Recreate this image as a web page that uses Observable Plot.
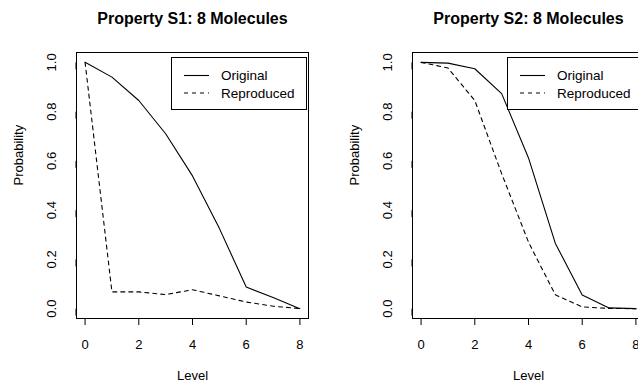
<!DOCTYPE html>
<html>
<head>
<meta charset="utf-8">
<script src="https://cdn.jsdelivr.net/npm/d3@7"></script>
<script src="https://cdn.jsdelivr.net/npm/@observablehq/plot@0.6"></script>
<style>
  html, body { margin: 0; padding: 0; background: #fff; }
  #chart { position: relative; width: 638px; height: 383px; overflow: hidden; background: #fff; }
  .panel { position: absolute; top: 0; width: 336px; height: 383px; }
  .legend { position: absolute; left: 171px; top: 57px; width: 136px; height: 53px; box-sizing: border-box; border: 1px solid #000; background: #fff; }
  .legend svg { position: absolute; left: 0; top: 0; }
</style>
</head>
<body>
<div id="chart"></div>
<script>
const levels = [0, 1, 2, 3, 4, 5, 6, 7, 8];
const s1Original   = [1.0, 0.94, 0.845, 0.71, 0.539, 0.326, 0.088, 0.045, 0.0];
const s1Reproduced = [1.0, 0.068, 0.068, 0.057, 0.077, 0.052, 0.027, 0.01, 0.0];
const s2Original   = [1.0, 0.997, 0.974, 0.873, 0.612, 0.265, 0.055, 0.003, 0.0];
const s2Reproduced = [1.0, 0.977, 0.845, 0.548, 0.27, 0.056, 0.007, 0.001, 0.0];
const titles = ["Property S1: 8 Molecules", "Property S2: 8 Molecules"];
const seriesNames = ["Original", "Reproduced"];
const xTicks = [0, 2, 4, 6, 8];
const yTicks = [0, 0.2, 0.4, 0.6, 0.8, 1.0];
const xLabel = "Level";
const yLabel = "Probability";

const FONT = "'Liberation Sans', Arial, Helvetica, sans-serif";

function table(orig, repr) {
  const rows = [];
  levels.forEach((l, i) => rows.push({level: l, value: orig[i], series: seriesNames[0]}));
  levels.forEach((l, i) => rows.push({level: l, value: repr[i], series: seriesNames[1]}));
  return rows;
}

function panel(title, orig, repr) {
  const data = table(orig, repr);
  return Plot.plot({
    width: 336,
    height: 383,
    marginLeft: 76,
    marginRight: 28,
    marginTop: 52,
    marginBottom: 65,
    x: {domain: [-0.32, 8.32]},
    y: {domain: [-0.04, 1.04]},
    style: {fontFamily: FONT, fontSize: "13px", color: "#000", background: "#fff", overflow: "visible"},
    marks: [
      Plot.frame({stroke: "#000", strokeWidth: 1}),
      Plot.axisX({ticks: xTicks, tickSize: 7, tickPadding: 14, label: null, stroke: "#000", fill: "#000", fontSize: 13}),
      Plot.axisY({ticks: yTicks, tickSize: 7, tickPadding: 18, label: null, tickFormat: d3.format(".1f"),
        rotate: -90, textAnchor: "middle", lineAnchor: "middle", stroke: "#000", fill: "#000", fontSize: 13}),
      Plot.line(data.filter(d => d.series === seriesNames[0]), {x: "level", y: "value", stroke: "#000", strokeWidth: 1.1}),
      Plot.line(data.filter(d => d.series === seriesNames[1]), {x: "level", y: "value", stroke: "#000", strokeWidth: 1.1, strokeDasharray: "4,4"}),
      Plot.text([title], {frameAnchor: "top", dy: -34, fontWeight: "bold", fontSize: 16, lineAnchor: "middle", fill: "#000"}),
      Plot.text([xLabel], {frameAnchor: "bottom", dy: 57, fontSize: 13, lineAnchor: "middle", fill: "#000"}),
      Plot.text([yLabel], {frameAnchor: "left", dx: -58, rotate: -90, fontSize: 13, lineAnchor: "middle", fill: "#000"})
    ]
  });
}

function legend() {
  const div = document.createElement("div");
  div.className = "legend";
  const svg = d3.create("svg").attr("width", 136).attr("height", 53);
  seriesNames.forEach((name, i) => {
    const y = 17.5 + i * 17.5;
    svg.append("line").attr("x1", 12).attr("x2", 37).attr("y1", y).attr("y2", y)
      .attr("stroke", "#000").attr("stroke-width", 1.1)
      .attr("stroke-dasharray", i === 1 ? "4,4" : null);
    svg.append("text").attr("x", 49).attr("y", y).attr("dy", "0.35em")
      .attr("font-family", FONT).attr("font-size", 13.5).attr("fill", "#000").text(name);
  });
  div.appendChild(svg.node());
  return div;
}

const chart = document.getElementById("chart");
[[titles[0], s1Original, s1Reproduced], [titles[1], s2Original, s2Reproduced]].forEach(([t, o, r], i) => {
  const p = document.createElement("div");
  p.className = "panel";
  p.style.left = (i * 336) + "px";
  p.appendChild(panel(t, o, r));
  p.appendChild(legend());
  chart.appendChild(p);
});
</script>
</body>
</html>
